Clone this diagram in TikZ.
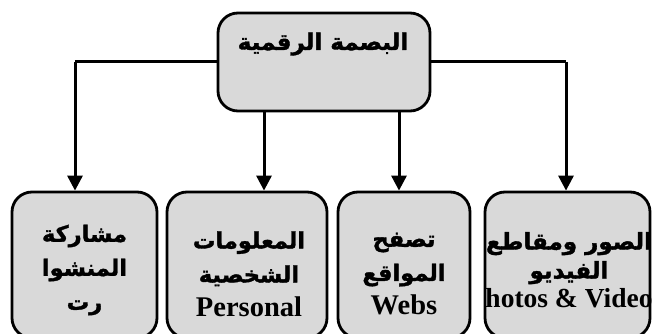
\documentclass[tikz,border=0pt]{standalone}
\usepackage{fontspec}
\setmainfont{Liberation Serif}
\newfontfamily\arabicfont[Script=Arabic, BoldFeatures={FakeBold=1.5}]{DejaVu Sans}
\TeXXeTstate=1
\usetikzlibrary{arrows.meta}
\definecolor{boxgray}{HTML}{D9D9D9}
\newcommand\latinline{\rmfamily\fontsize{28.5}{34}\selectfont}
\begin{document}
\begin{tikzpicture}[x=1pt,y=-1pt,
  box/.style={draw=black, line width=2.8pt, fill=boxgray, rounded corners=20pt, inner sep=0pt},
  link/.style={line width=3pt},
  arrowlink/.style={link, -{Triangle[width=15pt,length=15pt]}},
  label/.style={font=\arabicfont\bfseries\fontsize{22.5}{34}\selectfont, align=center, inner sep=0pt},
]
\useasboundingbox (0,0) rectangle (653,334);
\clip (0,0) rectangle (653,334);

% root box
\node[box, minimum width=212pt, minimum height=98pt] (root) at (324,62) {};
\node[label, font=\arabicfont\bfseries\fontsize{23}{34}\selectfont] (roottext) at (323,44) {\beginR البصمة الرقمية\endR};

% child boxes
\node[box, minimum width=145pt, minimum height=146pt] (b1) at (84.5,265) {};
\node[box, minimum width=160pt, minimum height=146pt] (b2) at (247,265) {};
\node[box, minimum width=132pt, minimum height=146pt] (b3) at (404,265) {};
\node[box, minimum width=165pt, minimum height=146pt] (b4) at (567.5,265) {};

\node[label] (t1) at (84.5,270) {\beginR مشاركة\endR\\\beginR المنشوا\endR\\\beginR رت\endR};
\node[label] (t2) at (249,274) {\beginR المعلومات\endR\\\beginR الشخصية\endR\\{\latinline Personal}};
\node[label] (t3) at (404,274) {\beginR تصفح\endR\\\beginR المواقع\endR\\{\latinline Webs}};
\node[label, font=\arabicfont\bfseries\fontsize{23}{29}\selectfont] (t4) at (569,270) {\beginR الصور ومقاطع\endR\\\beginR الفيديو\endR\\{\rmfamily\fontsize{27.5}{29}\selectfont hotos \& Video}};

% connectors
\coordinate (j1) at (75,62);
\coordinate (j4) at (566,62);
\coordinate (m2) at (264,0);
\coordinate (m3) at (399,0);
\draw[link] (root.west) -- (j1);
\draw[link] (root.east) -- (j4);
\draw[arrowlink] (j1) -- (j1 |- b1.north);
\draw[arrowlink] (j4) -- (j4 |- b4.north);
\draw[arrowlink] (root.south -| m2) -- (b2.north -| m2);
\draw[arrowlink] (root.south -| m3) -- (b3.north -| m3);
\end{tikzpicture}
\end{document}
